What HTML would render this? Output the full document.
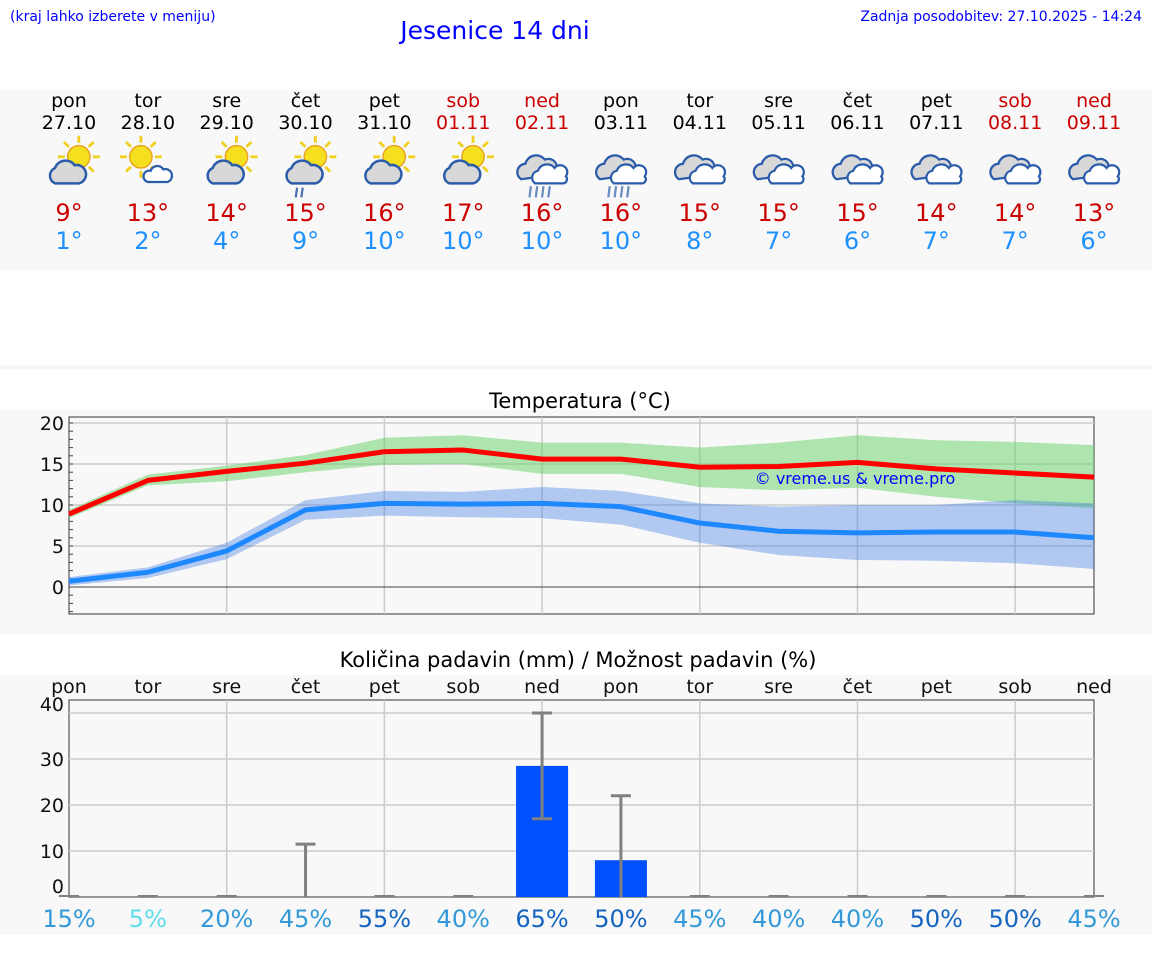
<!DOCTYPE html>
<html><head><meta charset="utf-8">
<style>
body{margin:0;width:1152px;height:975px;background:#fff;font-family:"DejaVu Sans","Liberation Sans",sans-serif;overflow:hidden}
svg{position:absolute;left:0;top:0}
text{font-family:"DejaVu Sans","Liberation Sans",sans-serif}
</style></head>
<body>
<svg id="s" width="1152" height="975">
<rect x="0" y="90" width="1152" height="180" fill="#f8f8f8"/>
<rect x="0" y="365" width="1152" height="4" fill="#f6f6f6"/>
<rect x="0" y="410" width="1152" height="225" fill="#f8f8f8"/>
<rect x="0" y="675" width="1152" height="260" fill="#f8f8f8"/>
<text x="10" y="21" font-size="14" fill="#0000ff">(kraj lahko izberete v meniju)</text>
<text x="495" y="39" font-size="25" fill="#0000ff" text-anchor="middle">Jesenice 14 dni</text>
<text x="1142" y="21" font-size="14" fill="#0000ff" text-anchor="end">Zadnja posodobitev: 27.10.2025 - 14:24</text>
<text x="580" y="408" font-size="21" fill="#000" text-anchor="middle">Temperatura (°C)</text>
<text x="578" y="667" font-size="21" fill="#000" text-anchor="middle">Količina padavin (mm) / Možnost padavin (%)</text>
<g id="g"></g>
</svg>
<script>
const days=["pon","tor","sre","čet","pet","sob","ned","pon","tor","sre","čet","pet","sob","ned"];
const dates=["27.10","28.10","29.10","30.10","31.10","01.11","02.11","03.11","04.11","05.11","06.11","07.11","08.11","09.11"];
const weekend=[0,0,0,0,0,1,1,0,0,0,0,0,1,1];
const icons=["pc","ps","pc","pcr","pc","pc","cr","cr","c","c","c","c","c","c"];
const maxT=[9,13,14,15,16,17,16,16,15,15,15,14,14,13];
const minT=[1,2,4,9,10,10,10,10,8,7,6,7,7,6];
const maxLine=[8.9,13.0,14.1,15.1,16.5,16.7,15.6,15.6,14.6,14.7,15.2,14.4,13.9,13.4];
const maxHi=[9.4,13.7,14.8,16.1,18.2,18.5,17.6,17.6,17.0,17.6,18.5,17.9,17.7,17.3];
const maxLo=[8.4,12.4,12.9,14.0,14.9,15.0,13.8,13.8,12.2,11.8,12.1,11.0,10.2,9.6];
const minLine=[0.7,1.8,4.4,9.4,10.2,10.1,10.2,9.8,7.8,6.8,6.6,6.7,6.7,6.0];
const minHi=[1.2,2.4,5.4,10.6,11.7,11.6,12.2,11.7,10.2,9.8,10.0,10.0,10.6,10.2];
const minLo=[0.2,1.1,3.4,8.2,8.7,8.5,8.4,7.6,5.4,3.9,3.3,3.2,2.9,2.2];
const rain=[0,0,0,0,0,0,28.5,8,0,0,0,0,0,0];
const rainHi=[0,0,0,11.5,0,0,40,22,0,0,0,0,0,0];
const rainLo=[0,0,0,0,0,0,17,0,0,0,0,0,0,0];
const chance=[15,5,20,45,55,40,65,50,45,40,40,50,50,45];
const tTicks=[0,5,10,15,20];
const rTicks=[0,10,20,30,40];

const NS="http://www.w3.org/2000/svg",G=document.getElementById('g');
function mk(t,a,txt,par){const e=document.createElementNS(NS,t);for(const k in a)e.setAttribute(k,a[k]);if(txt!==undefined&&txt!==null)e.textContent=txt;(par||G).appendChild(e);return e;}
const X0=69,X1=1094,DX=(X1-X0)/13;
const xs=i=>X0+i*DX;
const yT=v=>587-8.2*v;
const yR=v=>897-4.6*v;

days.forEach((d,i)=>{
 const x=xs(i),c=weekend[i]?"#cc0000":"#000";
 let e=mk('text',{x:x,y:107,'font-size':19,fill:c,'text-anchor':'middle'},d);
 
 e=mk('text',{x:x,y:129,'font-size':19,fill:c,'text-anchor':'middle'},dates[i]);
 
 e=mk('text',{x:x,y:221,'font-size':24,fill:'#cc0000','text-anchor':'middle'},maxT[i]+"°");
 
 e=mk('text',{x:x,y:249,'font-size':24,fill:'#1e90ff','text-anchor':'middle'},minT[i]+"°");
 
 const ic=icons[i],cx=x,cy=168;
 const ig=mk('g',{transform:`translate(${cx},${cy}) scale(1.4) translate(${-cx},${-cy})`});
 
 if(ic[0]=='p'){
  const sx=ic=="ps"?cx-5:cx+7,sy=cy-8;
  for(let k=0;k<8;k++){const a=k*Math.PI/4;mk('line',{x1:sx+Math.cos(a)*10,y1:sy+Math.sin(a)*10,x2:sx+Math.cos(a)*15,y2:sy+Math.sin(a)*15,stroke:'#f0d020','stroke-width':2},null,ig);}
  mk('circle',{cx:sx,cy:sy,r:8,fill:'#f5e020',stroke:'#e8a020','stroke-width':1},null,ig);
 }
 if(ic=="ps"){mk('path',{d:`M${cx},${cy+10} a4,4 0 0 1 2,-8 a5,5 0 0 1 9,-1 a4,4 0 0 1 3,9 z`,fill:'#fff',stroke:'#2a5caa','stroke-width':1.6},null,ig);}
 else if(ic[0]=='p'){mk('path',{d:`M${cx-10},${cy+11} a6,6 0 0 1 0,-11 a8,8 0 0 1 14,-2 a6,6 0 0 1 3,13 z`,fill:'#d8d8d8',stroke:'#2a5caa','stroke-width':1.8},null,ig);}
 else{
  mk('path',{d:`M${cx-15},${cy+8} a6,6 0 0 1 3,-11 a8,8 0 0 1 14,-3 a5,5 0 0 1 5,11 z`,fill:'#d8d8d8',stroke:'#2a5caa','stroke-width':1.6},null,ig);
  mk('path',{d:`M${cx-5},${cy+11} a5,5 0 0 1 2,-9 a7,7 0 0 1 12,-2 a5,5 0 0 1 8,6 a3,3 0 0 1 -2,5 z`,fill:'#fff',stroke:'#2a5caa','stroke-width':1.6},null,ig);
 }
 if(ic=="pcr"){for(let k=0;k<2;k++)mk('line',{x1:cx-6+k*4,y1:cy+14,x2:cx-7+k*4,y2:cy+21,stroke:'#4a70b0','stroke-width':1.6},null,ig);}
 if(ic=="cr"){for(let k=0;k<4;k++)mk('line',{x1:cx-8+k*4.5,y1:cy+13,x2:cx-9+k*4.5,y2:cy+21,stroke:'#6a8cc0','stroke-width':1.6},null,ig);}
});

function frame(y0,y1){mk('rect',{x:X0,y:y0,width:X1-X0,height:y1-y0,fill:'#f8f8f8',stroke:'#333','stroke-width':1});
 for(let i=2;i<14;i+=2)mk('line',{x1:xs(i),y1:y0,x2:xs(i),y2:y1,stroke:'#ccc','stroke-width':1.5});}
frame(417,614);
tTicks.forEach(t=>{mk('line',{x1:X0,y1:yT(t),x2:X1,y2:yT(t),stroke:t==0?'#444':'#ccc','stroke-width':t==0?1:1.5});
 const e=mk('text',{x:64,y:yT(t)+7,'font-size':19,'text-anchor':'end',fill:'#111'},t);});
for(let v=-3;v<=20;v++)mk('line',{x1:X0,y1:yT(v),x2:X0+4,y2:yT(v),stroke:'#444','stroke-width':1});
function band(hi,lo,c,name){let d="M"+hi.map((v,i)=>xs(i)+","+yT(v)).join(" L")+" L"+lo.map((v,i)=>xs(i)+","+yT(v)).reverse().join(" L")+"Z";
 const e=mk('path',{d:d,fill:c});}
function line(a,c,name){const e=mk('polyline',{points:a.map((v,i)=>xs(i)+","+yT(v)).join(" "),fill:'none',stroke:c,'stroke-width':5,'stroke-linejoin':'round'});}
band(maxHi,maxLo,'rgba(100,210,100,0.5)','max-temp-range');
band(minHi,minLo,'rgba(60,120,230,0.38)','min-temp-range');
line(maxLine,'#ff0000','max-temp-line');
line(minLine,'#1e88ff','min-temp-line');
let w=mk('text',{x:855,y:484,'font-size':16,fill:'#0000ff','text-anchor':'middle'},"© vreme.us & vreme.pro");


frame(700,897);
rTicks.forEach(t=>{if(t>0)mk('line',{x1:X0,y1:yR(t),x2:X1,y2:yR(t),stroke:'#ccc','stroke-width':1.5});
 const e=mk('text',{x:64,y:(t==0?893:t==40?711:yR(t)+7),'font-size':19,'text-anchor':'end',fill:'#111'},t);});
days.forEach((d,i)=>{
 const x=xs(i);
 let e=mk('text',{x:x,y:693,'font-size':19,'text-anchor':'middle',fill:'#111'},d);
 if(rain[i]>0){e=mk('rect',{x:x-26,y:yR(rain[i]),width:52,height:yR(0)-yR(rain[i]),fill:'#0050ff'});}
 if(rainHi[i]>0){mk('line',{x1:x,y1:yR(rainLo[i]),x2:x,y2:yR(rainHi[i]),stroke:'#808080','stroke-width':3});
  mk('line',{x1:x-10,y1:yR(rainHi[i]),x2:x+10,y2:yR(rainHi[i]),stroke:'#808080','stroke-width':3});
  if(rainLo[i]>0)mk('line',{x1:x-10,y1:yR(rainLo[i]),x2:x+10,y2:yR(rainLo[i]),stroke:'#808080','stroke-width':3});}
 else mk('line',{x1:x-10,y1:896,x2:x+10,y2:896,stroke:'#808080','stroke-width':2});
 const p=chance[i],c=p<10?'#5fdcec':p<=45?'#3399d8':'#1565c0';
 e=mk('text',{x:x,y:927,'font-size':24,'text-anchor':'middle',fill:c},p+"%");
});
</script>
</body></html>
